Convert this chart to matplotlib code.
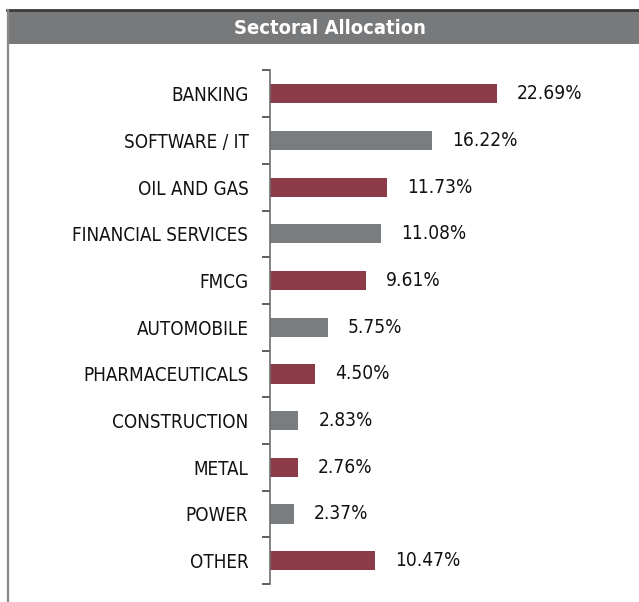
import matplotlib.pyplot as plt
from matplotlib.patches import Rectangle
from matplotlib.lines import Line2D

sectors = ['BANKING', 'SOFTWARE / IT', 'OIL AND GAS', 'FINANCIAL SERVICES', 'FMCG',
           'AUTOMOBILE', 'PHARMACEUTICALS', 'CONSTRUCTION', 'METAL', 'POWER', 'OTHER']
weights = [22.69, 16.22, 11.73, 11.08, 9.61, 5.75, 4.50, 2.83, 2.76, 2.37, 10.47]

red = '#8b3c48'
grey = '#7a7d80'
colors = [red if i % 2 == 0 else grey for i in range(len(sectors))]

plt.rcParams['font.family'] = ['DejaVu Sans']
plt.rcParams['font.stretch'] = 'condensed'

W, H = 639, 602
fig = plt.figure(figsize=(W / 100, H / 100), dpi=100)

# header band
fig.patches.append(Rectangle((7 / W, 1 - 44 / H), 1 - 7 / W, 33 / H, transform=fig.transFigure,
                             facecolor='#78797b', edgecolor='none'))
fig.lines.append(Line2D([7 / W, 1], [1 - 10 / H, 1 - 10 / H], transform=fig.transFigure,
                        color='#3a3a3a', lw=2))
fig.lines.append(Line2D([8 / W, 8 / W], [0, 1 - 10 / H], transform=fig.transFigure,
                        color='#8a8a8a', lw=1.6))
fig.text(330 / W, 1 - 28 / H, 'Sectoral Allocation', color='white', fontsize=14.5,
         fontweight='bold', fontstretch='condensed', ha='center', va='center')

ax = fig.add_axes([270 / W, 1 - 584 / H, 1 - 270 / W, (584 - 70.5) / H])
y = list(range(len(sectors)))
ax.barh(y, weights, height=0.41, color=colors)
for yi, v in zip(y, weights):
    ax.text(v + 2.0, yi, f'{v:.2f}%', va='center', ha='left', fontsize=13.7,
            fontstretch='condensed', color='#111111')

ax.set_xlim(0, 36.9)
ax.set_ylim(len(sectors) - 0.5, -0.5)
for s in ['top', 'right', 'bottom']:
    ax.spines[s].set_visible(False)
ax.spines['left'].set_color('#6e6e6e')
ax.spines['left'].set_linewidth(1.2)
ax.set_xticks([])
ax.set_yticks([i - 0.5 for i in range(len(sectors) + 1)])
ax.set_yticklabels([])
ax.tick_params(axis='y', which='major', length=6, width=1.2, color='#444444', direction='out')
ax.set_yticks(y, minor=True)
ax.set_yticklabels(sectors, minor=True, fontsize=13.5, fontstretch='condensed', color='#111111')
ax.tick_params(axis='y', which='minor', length=0, pad=15.5)

fig.savefig('out.png', dpi=100)
